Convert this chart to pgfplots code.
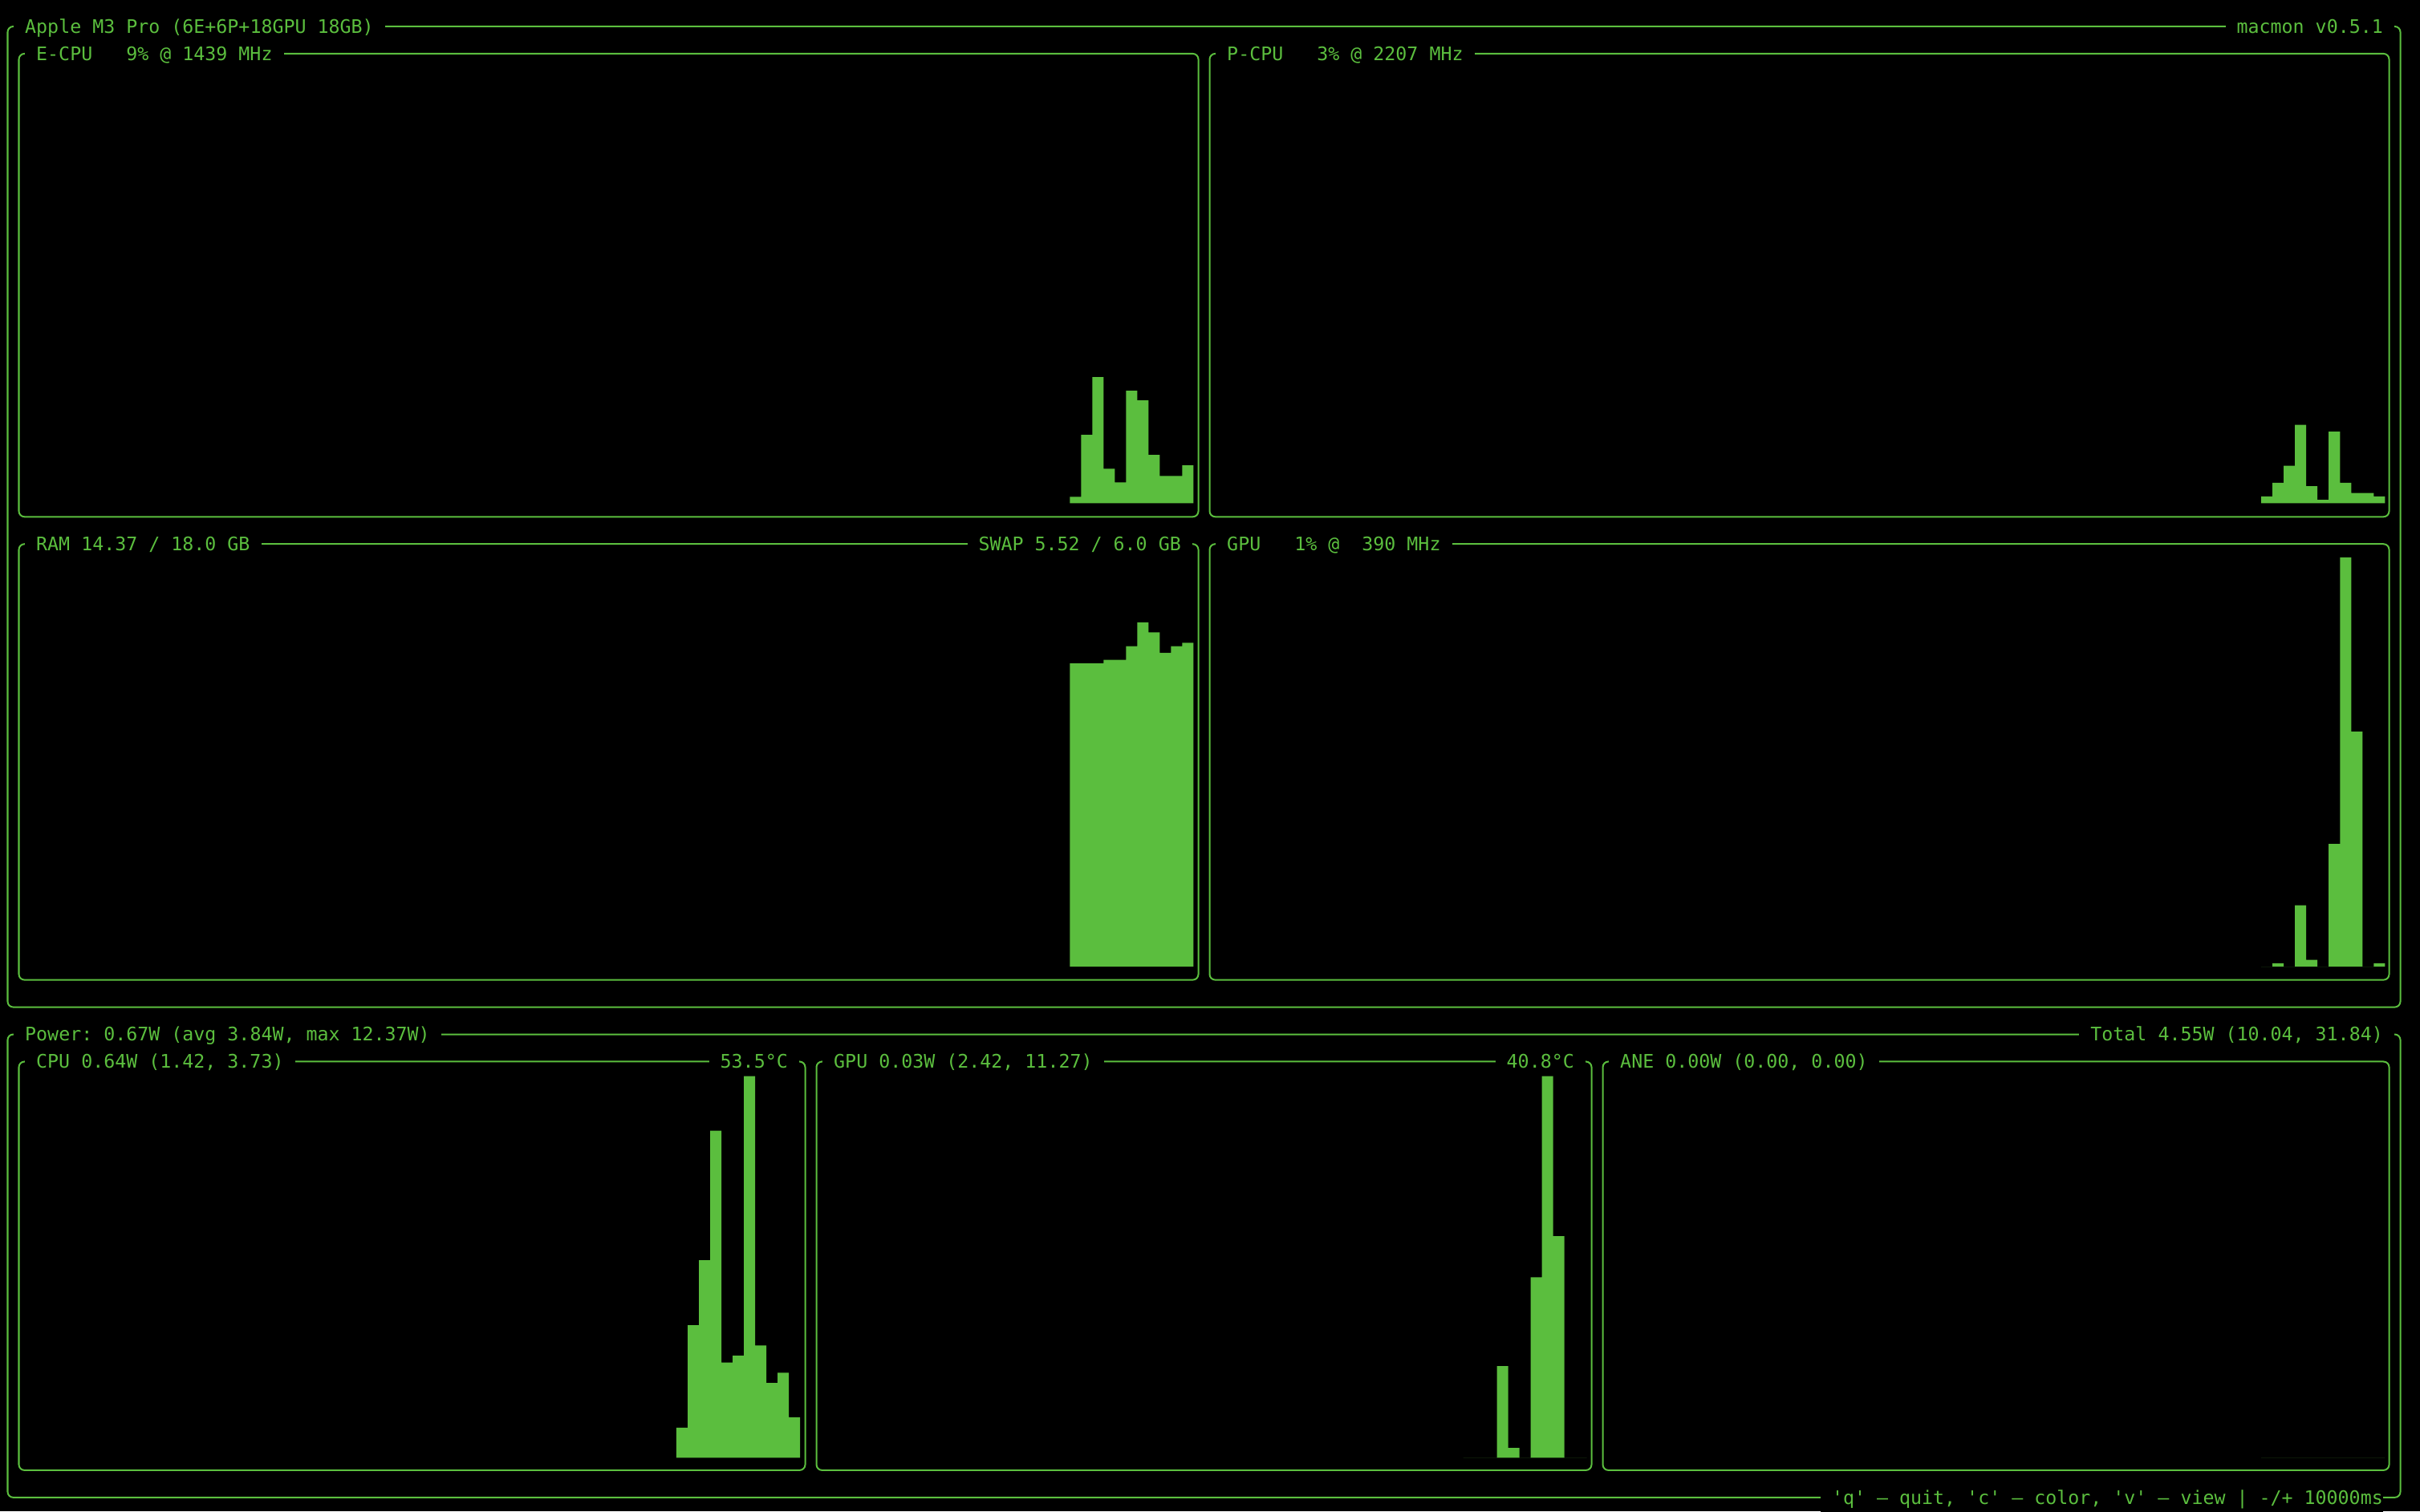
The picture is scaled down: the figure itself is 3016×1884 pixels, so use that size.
\documentclass[border=0pt]{standalone}
\usepackage{fontspec}
\setmonofont{DejaVu Sans Mono}
\usepackage{pgfplots}
\pgfplotsset{compat=1.18}
\definecolor{tg}{RGB}{91,190,62}
\pgfplotsset{panel/.style={scale only axis, hide axis, anchor=south west, enlargelimits=false, ymin=0}}
\tikzset{tnode/.style={fill=black, text=tg, inner xsep=0.14cm, inner ysep=0.04cm, font=\ttfamily\fontsize{6.62pt}{8pt}\selectfont}}
\newcommand\frm[4]{\draw[tg, line width=0.02cm, rounded corners=0.07cm] ({9.5+14*#1},{1851-33.96*#2}) rectangle ({9.5+14*#3},{1851-33.96*#4});}
\newcommand\ttlL[3]{\node[tnode, anchor=base west] at ({2.5+14*(#1-1)},{1842.6-33.96*#2}) {#3};}
\newcommand\ttlR[3]{\node[tnode, anchor=base east] at ({2.5+14*(#1+2)},{1842.6-33.96*#2}) {#3};}
\begin{document}
\begin{tikzpicture}[x=0.01cm,y=0.01cm]
\fill[black] (0,0) rectangle (3016,1884);
% frames
\frm{0}{0}{213}{36}
\frm{1}{1}{106}{18}
\frm{107}{1}{212}{18}
\frm{1}{19}{106}{35}
\frm{107}{19}{212}{35}
\frm{0}{37}{213}{54}
\frm{1}{38}{71}{53}
\frm{72}{38}{141}{53}
\frm{142}{38}{212}{53}
% E-CPU
\begin{axis}[panel, at={(0.305cm,12.56cm)}, width=14.56cm, height=5.434cm, xmin=2, xmax=106, ymax=543.4]
\addplot[const plot mark left, fill=tg, draw=none] coordinates {(95,8)(96,85)(97,157)(98,43)(99,26)(100,140)(101,128)(102,60)(103,34)(104,34)(105,47)(106,47)} \closedcycle;
\end{axis}
% P-CPU
\begin{axis}[panel, at={(15.145cm,12.56cm)}, width=14.56cm, height=5.434cm, xmin=108, xmax=212, ymax=543.4]
\addplot[const plot mark left, fill=tg, draw=none] coordinates {(201,8.5)(202,25.5)(203,46.7)(204,97.6)(205,21.2)(206,4.2)(207,89.1)(208,25.5)(209,12.7)(210,12.7)(211,8.5)(212,8.5)} \closedcycle;
\end{axis}
% RAM
\begin{axis}[panel, at={(0.305cm,6.785cm)}, width=14.56cm, height=5.1cm, xmin=2, xmax=106, ymax=510]
\addplot[const plot mark left, fill=tg, draw=none] coordinates {(95,378)(96,378)(97,378)(98,382.4)(99,382.4)(100,399.4)(101,429)(102,416.4)(103,391)(104,399.4)(105,403.4)(106,403.4)} \closedcycle;
\end{axis}
% GPU
\begin{axis}[panel, at={(15.145cm,6.785cm)}, width=14.56cm, height=5.1cm, xmin=108, xmax=212, ymax=510]
\addplot[const plot mark left, fill=tg, draw=none] coordinates {(201,0)(202,4.2)(203,0)(204,76.4)(205,8.5)(206,0)(207,152.8)(208,510)(209,292.9)(210,0)(211,4.2)(212,4.2)} \closedcycle;
\end{axis}
% CPU power
\begin{axis}[panel, at={(0.305cm,0.665cm)}, width=9.66cm, height=4.755cm, xmin=2, xmax=71, ymax=475.5]
\addplot[const plot mark left, fill=tg, draw=none] coordinates {(60,37.7)(61,165.3)(62,246.3)(63,407.7)(64,118.7)(65,127.3)(66,475.5)(67,140)(68,93.3)(69,106)(70,50.7)(71,50.7)} \closedcycle;
\end{axis}
% GPU power
\begin{axis}[panel, at={(10.245cm,0.665cm)}, width=9.52cm, height=4.755cm, xmin=73, xmax=141, ymax=475.5]
\addplot[const plot mark left, fill=tg, draw=none] coordinates {(130,0)(131,0)(132,0)(133,114.3)(134,12.3)(135,0)(136,225)(137,475.5)(138,276.3)(139,0)(140,0)(141,0)} \closedcycle;
\end{axis}
% ANE power
\begin{axis}[panel, at={(20.045cm,0.665cm)}, width=9.66cm, height=4.755cm, xmin=143, xmax=212, ymax=475.5]
\addplot[const plot mark left, fill=tg, draw=none] coordinates {(201,0)(202,0)(203,0)(204,0)(205,0)(206,0)(207,0)(208,0)(209,0)(210,0)(211,0)(212,0)} \closedcycle;
\end{axis}
% titles
\ttlL{2}{0}{Apple M3 Pro (6E+6P+18GPU 18GB)}
\ttlR{211}{0}{macmon v0.5.1}
\ttlL{3}{1}{E-CPU~~~9\%~@~1439~MHz}
\ttlL{109}{1}{P-CPU~~~3\%~@~2207~MHz}
\ttlL{3}{19}{RAM~14.37~/~18.0~GB}
\ttlR{104}{19}{SWAP~5.52~/~6.0~GB}
\ttlL{109}{19}{GPU~~~1\%~@~~390~MHz}
\ttlL{2}{37}{Power:~0.67W~(avg~3.84W,~max~12.37W)}
\ttlR{211}{37}{Total~4.55W~(10.04,~31.84)}
\ttlL{3}{38}{CPU~0.64W~(1.42,~3.73)}
\ttlR{69}{38}{53.5°C}
\ttlL{74}{38}{GPU~0.03W~(2.42,~11.27)}
\ttlR{139}{38}{40.8°C}
\ttlL{144}{38}{ANE~0.00W~(0.00,~0.00)}
\node[tnode, inner xsep=0pt, anchor=base east] at (2970.5,{1842.6-33.96*54}) {~'q'~–~quit,~'c'~–~color,~'v'~–~view~|~-/+~10000ms};
\end{tikzpicture}
\end{document}
